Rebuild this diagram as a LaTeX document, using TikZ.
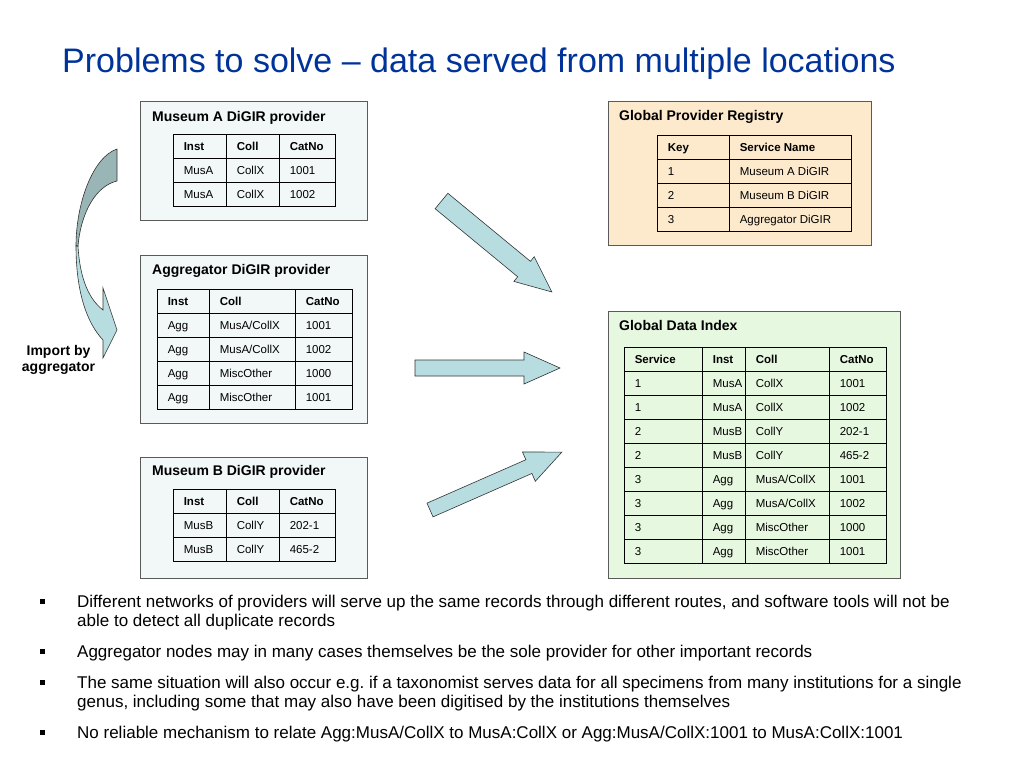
\documentclass[tikz,border=0pt]{standalone}
\usepackage{fontspec}
\setmainfont{Liberation Sans}
\usepackage{array}
\usetikzlibrary{positioning}

\definecolor{titleblue}{RGB}{0,51,153}
\definecolor{provfill}{RGB}{242,248,248}
\definecolor{regfill}{RGB}{253,234,205}
\definecolor{idxfill}{RGB}{231,248,224}
\definecolor{boxgray}{RGB}{90,90,90}
\definecolor{arrowlight}{RGB}{183,221,225}
\definecolor{arrowdark}{RGB}{153,181,181}

\newcolumntype{L}[1]{>{\rule[-7.4pt]{0pt}{22.8pt}}p{#1pt}}
\setlength{\arrayrulewidth}{1.2pt}
\setlength{\tabcolsep}{9.4pt}
\newcommand{\tabfont}{\fontsize{11.5}{14}\selectfont}
% block arrow: tail coordinate, angle, shaft half width, length
\newcommand{\blockarrow}[4]{%
  \draw[blockarr, shift={(#1)}, rotate=#2] (0,-#3) -- ({#4-36},-#3) -- ({#4-36},-16) -- (#4,0)
    -- ({#4-36},16) -- ({#4-36},#3) -- (0,#3) -- cycle;}

\begin{document}
\frenchspacing
\begin{tikzpicture}[x=1pt, y=-1pt,
    provbox/.style={draw=boxgray, line width=0.6pt, fill=provfill, anchor=north west, inner sep=0pt},
    boxtitle/.style={anchor=base west, inner sep=0pt, font=\bfseries\fontsize{14}{16}\selectfont},
    tab/.style={anchor=north west, inner sep=0pt, font=\tabfont},
    blockarr/.style={draw=black!80, line width=0.6pt, fill=arrowlight, line join=miter},
    bulletsq/.style={fill=black, minimum size=5pt, inner sep=0pt},
    bullettext/.style={anchor=base west, inner sep=0pt, font=\fontsize{17}{20}\selectfont},
    importlbl/.style={anchor=base, inner sep=0pt, font=\bfseries\fontsize{14}{16}\selectfont}]
  \useasboundingbox (0,0) rectangle (1024,768);

  \node[anchor=base west, inner sep=0pt, text=titleblue, font=\fontsize{34}{40}\selectfont] (title) at (62,72)
    {Problems to solve – data served from multiple locations};

  % providers
  \node[provbox, minimum width=227pt, minimum height=119pt] (musa) at (140,101) {};
  \node[boxtitle] (musatitle) at (152,121) {Museum A DiGIR provider};
  \node[tab] (musatab) at (173,134) {\begin{tabular}{|L{33}|L{33}|L{36}|}\hline
    \textbf{Inst} & \textbf{Coll} & \textbf{CatNo}\\\hline
    MusA & CollX & 1001\\\hline
    MusA & CollX & 1002\\\hline\end{tabular}};

  \node[provbox, minimum width=227pt, minimum height=168pt] (agg) at (140,255) {};
  \node[boxtitle] (aggtitle) at (152,274) {Aggregator DiGIR provider};
  \node[tab] (aggtab) at (157,289) {\begin{tabular}{|L{32}|L{66}|L{37}|}\hline
    \textbf{Inst} & \textbf{Coll} & \textbf{CatNo}\\\hline
    Agg & MusA/CollX & 1001\\\hline
    Agg & MusA/CollX & 1002\\\hline
    Agg & MiscOther & 1000\\\hline
    Agg & MiscOther & 1001\\\hline\end{tabular}};

  \node[provbox, minimum width=227pt, minimum height=121pt] (musb) at (140,457) {};
  \node[boxtitle] (musbtitle) at (152,475) {Museum B DiGIR provider};
  \node[tab] (musbtab) at (173,489) {\begin{tabular}{|L{33}|L{33}|L{36}|}\hline
    \textbf{Inst} & \textbf{Coll} & \textbf{CatNo}\\\hline
    MusB & CollY & 202-1\\\hline
    MusB & CollY & 465-2\\\hline\end{tabular}};

  % global services
  \node[provbox, fill=regfill, minimum width=263pt, minimum height=144pt] (reg) at (608,101) {};
  \node[boxtitle] (regtitle) at (619,120) {Global Provider Registry};
  \node[tab] (regtab) at (657,135) {\begin{tabular}{|L{52}|L{102}|}\hline
    \textbf{Key} & \textbf{Service Name}\\\hline
    1 & Museum A DiGIR\\\hline
    2 & Museum B DiGIR\\\hline
    3 & Aggregator DiGIR\\\hline\end{tabular}};

  \node[provbox, fill=idxfill, minimum width=292pt, minimum height=267pt] (idx) at (608,311) {};
  \node[boxtitle] (idxtitle) at (619,330) {Global Data Index};
  \node[tab] (idxtab) at (624,347) {\begin{tabular}{|L{58}|L{23}|L{64}|L{37}|}\hline
    \textbf{Service} & \textbf{Inst} & \textbf{Coll} & \textbf{CatNo}\\\hline
    1 & MusA & CollX & 1001\\\hline
    1 & MusA & CollX & 1002\\\hline
    2 & MusB & CollY & 202-1\\\hline
    2 & MusB & CollY & 465-2\\\hline
    3 & Agg & MusA/CollX & 1001\\\hline
    3 & Agg & MusA/CollX & 1002\\\hline
    3 & Agg & MiscOther & 1000\\\hline
    3 & Agg & MiscOther & 1001\\\hline\end{tabular}};

  % harvesting arrows
  \coordinate (fromA) at (441.5,201);
  \coordinate (fromAgg) at (415,368);
  \coordinate (fromB) at (430,510);
  \blockarrow{fromA}{-39.5}{10}{143}
  \blockarrow{fromAgg}{0}{8}{145}
  \blockarrow{fromB}{23.7}{7.5}{144}

  % import by aggregator
  \draw[draw=black!80, line width=0.6pt, fill=arrowdark] (117,149) -- (117,181)
    .. controls (96,186) and (81,212) .. (78,246) -- (76,246)
    .. controls (76,203) and (93,157) .. (117,149) -- cycle;
  \draw[draw=black!80, line width=0.6pt, fill=arrowlight, line join=miter] (78,246)
    .. controls (80,281) and (90,300) .. (103,310) -- (103,288) -- (117,330) -- (103,358) -- (103,340)
    .. controls (86,322) and (76,290) .. (76,246) -- cycle;
  \node[importlbl] (imp1) at (58.5,355) {Import by};
  \node[importlbl] (imp2) at (58.5,371) {aggregator};

  % bullets
  \node[bulletsq] (b1) at (42,601.5) {};
  \node[bullettext] (t1a) at (77,607) {Different networks of providers will serve up the same records through different routes, and software tools will not be};
  \node[bullettext] (t1b) at (77,626) {able to detect all duplicate records};
  \node[bulletsq] (b2) at (42,651.5) {};
  \node[bullettext] (t2) at (77,657) {Aggregator nodes may in many cases themselves be the sole provider for other important records};
  \node[bulletsq] (b3) at (42,682.5) {};
  \node[bullettext] (t3a) at (77,688) {The same situation will also occur e.g. if a taxonomist serves data for all specimens from many institutions for a single};
  \node[bullettext] (t3b) at (77,707) {genus, including some that may also have been digitised by the institutions themselves};
  \node[bulletsq] (b4) at (42,732.5) {};
  \node[bullettext] (t4) at (77,738) {No reliable mechanism to relate Agg:MusA/CollX to MusA:CollX or Agg:MusA/CollX:1001 to MusA:CollX:1001};
\end{tikzpicture}
\end{document}
